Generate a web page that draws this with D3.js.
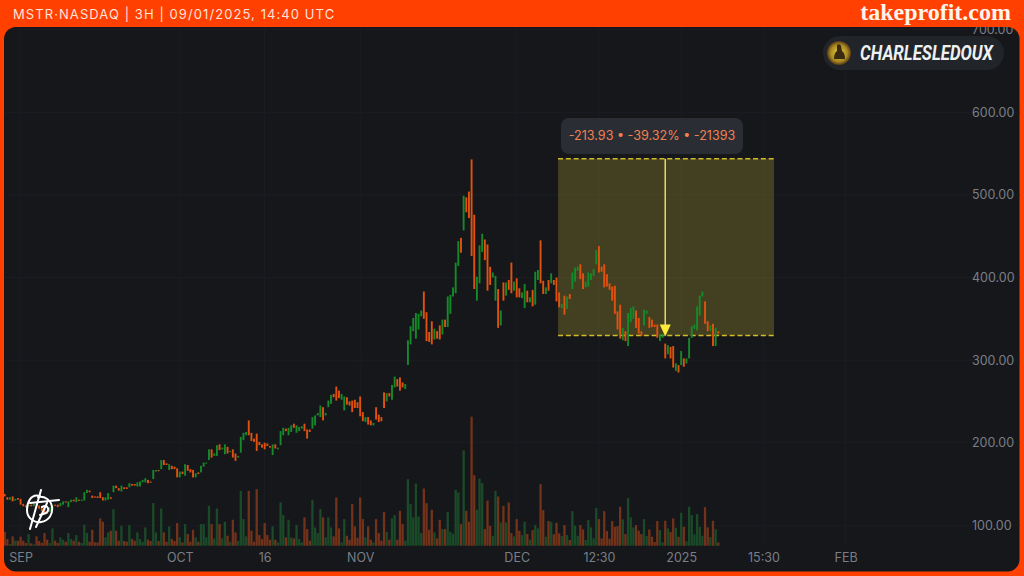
<!DOCTYPE html>
<html>
<head>
<meta charset="utf-8">
<style>
  html, body { margin: 0; padding: 0; background: #ff4000; }
  svg { display: block; }
</style>
<script src="https://cdn.jsdelivr.net/npm/d3@7"></script>
</head>
<body>
<svg id="chart" width="1024" height="576"></svg>
<script>
const opens = [
  138,134,131,135,130,133,132,126,124,123,125,123,126,124,122,120,117,116,121,125,
  125,123,125,129,122,128,131,128,131,130,130,139,142,136,135,135,140,134,130,131,
  134,140,148,145,141,146,146,146,150,150,147,147,152,152,155,153,156,165,167,168,
  179,175,167,172,171,169,158,165,160,173,168,167,158,164,164,171,175,
  179,192,184,184,198,192,186,195,189,192,187,182,
  188,203,209,227,212,205,211,201,198,200,199,196,185,198,192,197,209,217,209,213,
  223,212,214,217,223,216,216,217,221,233,231,243,233,243,247,259,268,263,252,239,
  255,250,251,252,249,256,237,225,231,227,221,243,234,231,261,250,260,252,267,277,
  279,273,265,
  294,319,335,326,337,353,383,358,334,347,325,335,342,331,349,340,356,377,381,414,
  448,457,497,504,543,476,372,393,431,446,440,413,400,372,386,342,394,378,397,418,
  384,399,387,375,363,384,370,385,367,397,445,396,380,397,393,397,400,382,363,378,
  362,380,386,395,408,
  416,405,388,389,397,402,416,438,413,416,404,393,389,390,359,367,324,335,317,346,
  350,360,351,335,342,356,352,349,343,343,323,327,320,307,316,317,287,294,294,302,
  296,302,327,338,336,354,377,371,347,335,344,317,335
];
const closes = [
  135,131,134,129,132,131,125,123,122,125,123,126,124,120,117,115,114,122,124,124,
  122,127,129,128,129,131,129,134,130,131,140,143,140,133,134,133,133,130,134,139,
  132,148,145,142,148,144,144,151,148,148,152,153,155,157,151,152,167,167,166,179,
  173,173,174,168,168,158,165,162,174,166,164,158,163,162,172,176,176,
  192,182,187,197,191,194,198,187,190,182,178,184,
  207,212,213,209,202,201,190,197,194,192,196,194,198,193,194,214,218,214,218,221,
  218,221,219,220,214,205,213,231,233,236,245,227,236,251,258,255,251,254,259,256,
  246,245,237,242,242,232,226,231,222,221,224,228,225,226,242,260,256,270,280,268,
  263,267,271,
  324,341,351,357,356,360,350,323,322,319,338,326,325,349,340,377,379,388,418,444,
  430,499,479,472,426,386,401,439,453,421,384,391,406,402,339,360,372,394,385,381,
  395,376,376,382,392,370,376,365,407,409,393,380,388,384,405,391,371,364,368,355,
  377,374,406,412,413,
  398,386,395,406,405,410,433,406,407,388,389,385,372,356,337,326,339,323,357,363,
  365,339,332,329,361,360,339,340,340,327,331,331,302,318,302,291,296,285,311,292,
  302,327,341,343,365,378,383,344,335,342,317,339,332
];
const volumes = [
  42,20,5,28,15,15,27,15,8,35,7,4,28,14,8,38,18,8,52,15,
  8,25,18,12,38,20,15,32,12,8,63,38,12,48,10,10,82,72,25,40,
  45,110,45,15,60,14,12,62,20,15,40,20,12,55,18,14,128,40,14,112,
  40,12,58,20,14,68,25,10,65,35,12,48,25,12,65,65,25,120,65,22,
  112,65,22,72,30,12,78,40,14,165,80,28,165,45,12,170,
  32,20,68,32,18,58,18,10,130,92,25,78,25,22,62,20,10,85,50,15,
  138,55,38,110,85,25,85,55,28,145,52,10,80,30,18,125,58,24,145,80,
  25,58,18,10,80,38,15,102,42,18,82,92,18,105,65,15,200,125,85,187,
  88,38,172,128,48,108,40,22,78,50,50,102,42,36,168,160,65,287,105,72,
  388,212,108,202,188,50,136,60,30,165,148,70,120,70,130,38,28,
  80,45,32,72,35,18,47,62,52,185,107,27,74,72,34,69,37,29,62,32,
  17,104,60,30,62,49,17,77,55,22,114,80,22,104,44,21,74,57,59,117,
  79,35,144,85,55,62,45,35,80,29,49,27,11,74,47,10,75,52,41,82,
  54,27,99,57,13,117,92,34,95,57,30,116,55,26,75,49,10
];

const priceTicks = [100, 200, 300, 400, 500, 600, 700];
const timeTickBars = [6, 66, 98, 134, 193, 224, 255, 286, 317];
const timeTickLabels = ['SEP', 'OCT', '16', 'NOV', 'DEC', '12:30', '2025', '15:30', 'FEB'];

// measured move drawn on the chart
const moveFromPrice = 543.7;
const moveToPrice = 329.77;
const moveStartBar = 208.6;
const moveEndBar = 290;
const moveMidBar = 249;
const moveLabel = '-213.93 • -39.32% • -21393';

const headerText = 'MSTR·NASDAQ | 3H | 09/01/2025, 14:40 UTC';
const brandText = 'takeprofit.com';
const userName = 'CHARLESLEDOUX';

const uiFont = 'Inter, "Noto Sans", sans-serif';

const svg = d3.select('#chart');
const defs = svg.append('defs');

defs.append('clipPath').attr('id', 'panelClip')
  .append('rect').attr('x', 4).attr('y', 27).attr('width', 1015.5).attr('height', 544.5).attr('rx', 12);

const avatarGrad = defs.append('radialGradient').attr('id', 'avatarGrad');
avatarGrad.append('stop').attr('offset', '0%').attr('stop-color', '#f0cf45');
avatarGrad.append('stop').attr('offset', '70%').attr('stop-color', '#a88a20');
avatarGrad.append('stop').attr('offset', '100%').attr('stop-color', '#5a3a18');

svg.append('rect').attr('width', 1024).attr('height', 576).attr('fill', '#ff4000');
svg.append('rect').attr('x', 4).attr('y', 27).attr('width', 1015.5).attr('height', 544.5)
  .attr('rx', 12).attr('fill', '#15171b');

const x = d3.scaleLinear().domain([0, opens.length - 1]).range([4.7, 718.3]);
const y = d3.scaleLinear().domain([100, 700]).range([525.3, 29.7]);
const volY = d3.scaleLinear().domain([0, d3.max(volumes)]).range([545.7, 416.7]);

const plot = svg.append('g').attr('clip-path', 'url(#panelClip)');

// grid
plot.append('g').selectAll('line').data(priceTicks).join('line')
  .attr('x1', 4).attr('x2', 1020)
  .attr('y1', d => y(d)).attr('y2', d => y(d))
  .attr('stroke', '#1b1d22');
plot.append('g').selectAll('line').data(timeTickBars).join('line')
  .attr('x1', d => x(d)).attr('x2', d => x(d))
  .attr('y1', 27).attr('y2', 546)
  .attr('stroke', '#1b1d22');

// axes
const yAxis = d3.axisRight(y).tickValues(priceTicks).tickSize(0).tickFormat(d3.format('.2f'));
const yAxisG = plot.append('g').attr('transform', 'translate(972,0)').call(yAxis);
yAxisG.select('.domain').remove();
yAxisG.selectAll('text').attr('fill', '#7b7e86').attr('font-size', 12.5)
  .attr('font-family', uiFont).attr('x', 0);

const xAxis = d3.axisBottom(x).tickValues(timeTickBars).tickSize(0)
  .tickFormat((d, i) => timeTickLabels[i]);
const xAxisG = plot.append('g').attr('transform', 'translate(0,553)').call(xAxis);
xAxisG.select('.domain').remove();
xAxisG.selectAll('text').attr('fill', '#7b7e86').attr('font-size', 12.5)
  .attr('font-family', uiFont).attr('y', 0).attr('dy', '0.71em');

// measured move box, under the candles
const boxX = x(moveStartBar);
const boxW = x(moveEndBar) - boxX;
plot.append('rect')
  .attr('x', boxX).attr('y', y(moveFromPrice))
  .attr('width', boxW).attr('height', y(moveToPrice) - y(moveFromPrice))
  .attr('fill', '#ffe23c').attr('fill-opacity', 0.2);
plot.append('g').selectAll('line').data([moveFromPrice, moveToPrice]).join('line')
  .attr('x1', boxX).attr('x2', boxX + boxW)
  .attr('y1', d => y(d)).attr('y2', d => y(d))
  .attr('stroke', '#d2bb28').attr('stroke-width', 1.4).attr('stroke-dasharray', '5 2.8');

// volume
const isUp = i => closes[i] >= opens[i];
plot.append('g').selectAll('rect').data(volumes).join('rect')
  .attr('x', (d, i) => x(i) - 1.15)
  .attr('width', 2.3)
  .attr('y', d => volY(d))
  .attr('height', d => volY(0) - volY(d))
  .attr('fill', (d, i) => isUp(i) ? '#1b4a29' : '#73331a');

// candles
plot.append('g').selectAll('rect').data(opens).join('rect')
  .attr('x', (d, i) => x(i) - 0.95)
  .attr('width', 1.9)
  .attr('y', (d, i) => y(Math.max(opens[i], closes[i])))
  .attr('height', (d, i) => Math.max(1.2, Math.abs(y(opens[i]) - y(closes[i]))))
  .attr('fill', (d, i) => isUp(i) ? '#16892a' : '#e0520f');

// arrow of the move
const arrowX = x(moveMidBar);
plot.append('line')
  .attr('x1', arrowX).attr('x2', arrowX)
  .attr('y1', y(moveFromPrice)).attr('y2', y(moveToPrice) - 8)
  .attr('stroke', '#e8d870').attr('stroke-width', 1.5);
plot.append('path')
  .attr('d', d3.line()([[arrowX - 5.5, y(moveToPrice) - 11], [arrowX + 5.5, y(moveToPrice) - 11], [arrowX, y(moveToPrice) + 1]]) + 'Z')
  .attr('fill', '#fde93a');

plot.append('rect').attr('x', 561).attr('y', 118).attr('width', 182).attr('height', 36)
  .attr('rx', 8).attr('fill', '#2b2d35');
plot.append('text').attr('x', 652).attr('y', 139.5).attr('text-anchor', 'middle')
  .attr('font-family', uiFont).attr('font-size', 12.6).attr('fill', '#f0814f').text(moveLabel);

// user pill
svg.append('rect').attr('x', 823).attr('y', 36).attr('width', 181).attr('height', 34)
  .attr('rx', 17).attr('fill', '#212429');
svg.append('circle').attr('cx', 839).attr('cy', 53).attr('r', 12)
  .attr('fill', 'url(#avatarGrad)');
svg.append('path').attr('d', 'M837 45 q3 -2 4 1 l1 5 q3 2 3 8 l-11 0 q0 -6 3 -8 z').attr('fill', '#3a2a12');
svg.append('text').attr('x', 860).attr('y', 60).attr('font-family', '"Liberation Sans Narrow", Roboto, sans-serif')
  .attr('font-size', 21).attr('font-weight', 700).attr('font-style', 'italic')
  .attr('fill', '#eef0f2').attr('textLength', 133).attr('lengthAdjust', 'spacingAndGlyphs')
  .text(userName);

// hand drawn logo, bottom left
const logo = svg.append('g').attr('fill', 'none').attr('stroke', '#fff')
  .attr('stroke-width', 2).attr('stroke-linecap', 'round');
logo.append('path').attr('d', 'M40 496 C30 493 27 504 27 510 C27 519 35 523 41 522 C49 521 53 514 52 507 C51 500 45 496 38 497');
logo.append('path').attr('d', 'M30 503 L59 500');
logo.append('path').attr('d', 'M41 490 L30 529');
logo.append('path').attr('d', 'M47 503 L36 527');
logo.append('path').attr('d', 'M42 507 C48 504 50 510 46 513 L40 515');

// header
svg.append('text').attr('x', 13).attr('y', 18.5).attr('font-size', 13)
  .attr('letter-spacing', 1.08).attr('fill', '#ffe3d8').attr('font-family', uiFont)
  .text(headerText);
svg.append('text').attr('x', 1011).attr('y', 20).attr('text-anchor', 'end')
  .attr('font-family', '"Liberation Serif", serif').attr('font-size', 24).attr('font-weight', 700)
  .attr('fill', '#fff4ec').text(brandText);
</script>
</body>
</html>
